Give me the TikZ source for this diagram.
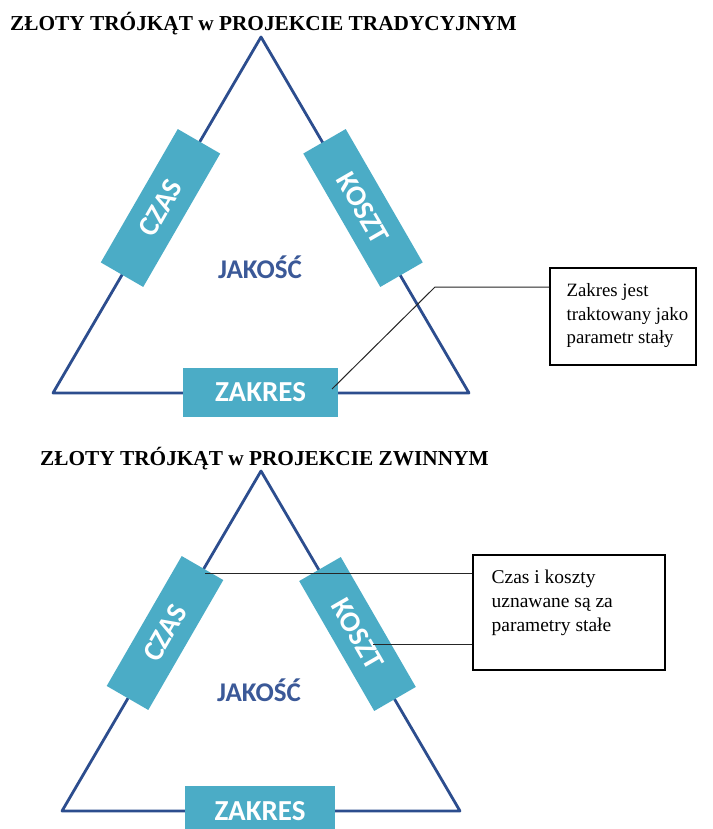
\documentclass[tikz,border=0pt]{standalone}
\usepackage{fontspec}
\setmainfont{Liberation Serif}
\newfontfamily\carl{Carlito}
\definecolor{boxfill}{HTML}{4BACC6}
\definecolor{edgeblue}{HTML}{2C4D8E}
\definecolor{qualblue}{HTML}{3B5998}
\begin{document}
\begin{tikzpicture}[x=1pt,y=-1pt,
  side/.style={draw=edgeblue,line width=2.8pt,line join=round},
  param/.style={fill=boxfill,text=white,inner sep=0pt,
    font=\carl\bfseries\fontsize{29}{30}\selectfont},
  quality/.style={text=qualblue,font=\carl\bfseries\fontsize{27}{29}\selectfont},
  heading/.style={anchor=base west,inner sep=0pt,font=\bfseries\fontsize{21.3}{24}\selectfont},
  note/.style={draw=black,line width=1.2pt,inner sep=0pt},
  notetext/.style={anchor=north west,align=left,inner sep=0pt},
  leader/.style={draw=black!85,line width=1pt}]
\useasboundingbox[fill=white] (0,0) rectangle (712,829);

% ---------- traditional project ----------
\node[heading] (title1) at (10,31) {ZŁOTY TRÓJKĄT w PROJEKCIE TRADYCYJNYM};
\coordinate (a1) at (261,37);
\coordinate (b1) at (53,393);
\coordinate (c1) at (469,393);
\draw[side] (b1) -- (a1) -- (c1) -- cycle;

\node[param,minimum width=154pt,minimum height=49pt,rotate=60] (czas1) at (160.5,208) {CZAS};
\node[param,minimum width=154pt,minimum height=49pt,rotate=-60] (koszt1) at (363,208) {KOSZT};
\node[param,minimum width=155pt,minimum height=49pt] (zakres1) at (260.5,392.5) {ZAKRES};
\node[quality] (jakosc1) at (260,267) {JAKOŚĆ};

\node[note,minimum width=146pt,minimum height=97pt] (note1) at (623,316.5) {};
\node[notetext,font=\fontsize{18.8}{23.5}\selectfont] (note1txt)
  at ([xshift=17pt,yshift=-16pt]note1.north west)
  {Zakres jest\\traktowany jako\\parametr stały};
\coordinate (bend1) at (435,287);
\coordinate (tip1) at (332,389);
\draw[leader] (note1.west |- bend1) -- (bend1) -- (tip1);

% ---------- agile project ----------
\node[heading] (title2) at (40,465) {ZŁOTY TRÓJKĄT w PROJEKCIE ZWINNYM};
\coordinate (a2) at (261,471);
\coordinate (b2) at (62,811);
\coordinate (c2) at (460,811);
\draw[side] (b2) -- (a2) -- (c2) -- cycle;

\node[param,minimum width=150pt,minimum height=48pt,rotate=60] (czas2) at (165,633) {CZAS};
\node[param,minimum width=150pt,minimum height=48pt,rotate=-60] (koszt2) at (357.5,634) {KOSZT};
\node[param,minimum width=150pt,minimum height=50pt] (zakres2) at (260,811) {ZAKRES};
\node[quality] (jakosc2) at (259,690) {JAKOŚĆ};

\node[note,minimum width=192pt,minimum height=115pt] (note2) at (569,612.5) {};
\node[notetext,font=\fontsize{19.5}{24}\selectfont] (note2txt)
  at ([xshift=19pt,yshift=-15pt]note2.north west)
  {Czas i koszty\\uznawane są za\\parametry stałe};
\coordinate (tip2a) at (205,573);
\coordinate (tip2b) at (373,644);
\draw[leader] (tip2a) -- (note2.west |- tip2a);
\draw[leader] (tip2b) -- (note2.west |- tip2b);
\end{tikzpicture}
\end{document}
